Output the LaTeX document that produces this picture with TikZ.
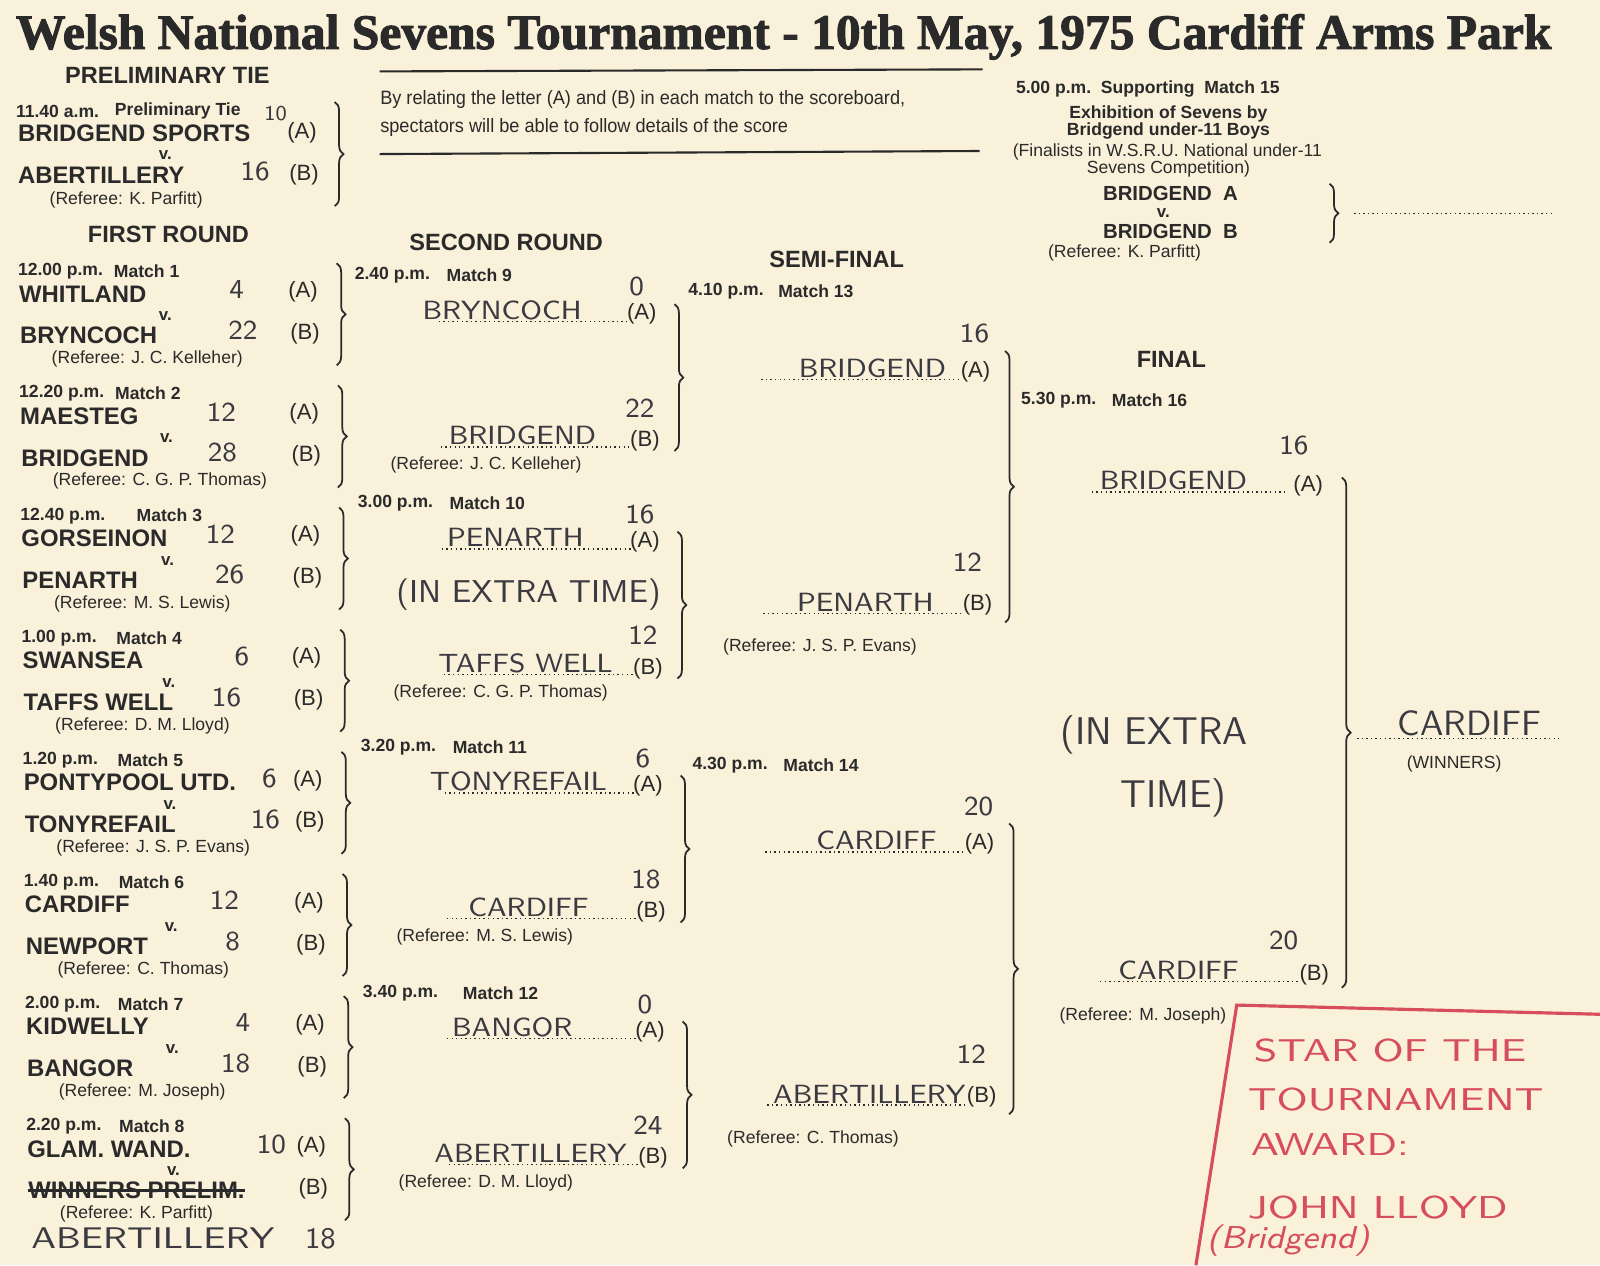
\documentclass[tikz,border=0pt]{standalone}
\usepackage{fontspec}
\setmainfont{Liberation Sans}
\newfontfamily\titlefont{Liberation Serif}[BoldFeatures={FakeBold=2}]
\usetikzlibrary{decorations.pathreplacing}
\definecolor{paper}{RGB}{250,241,219}
\definecolor{ink}{RGB}{42,42,42}
\definecolor{pen}{RGB}{58,58,64}
\definecolor{redink}{RGB}{214,78,92}

\begin{document}
\begin{tikzpicture}[x=0.010204cm,y=-0.010204cm,
  every node/.style={inner sep=0pt,text=ink},
  head/.style={font=\bfseries\fontsize{6.7}{8}\selectfont},
  team/.style={anchor=west,font=\bfseries\fontsize{6.8}{8}\selectfont},
  tm/.style={anchor=west,font=\bfseries\fontsize{5}{6}\selectfont},
  refe/.style={anchor=west,font=\fontsize{5}{6}\selectfont},
  note/.style={anchor=west,xscale=.94,font=\fontsize{5.5}{7}\selectfont},
  ab/.style={font=\fontsize{6.3}{7}\selectfont},
  vs/.style={font=\bfseries\fontsize{4.8}{6}\selectfont},
  hand/.style={anchor=base,text=pen,xscale=1.05,font=\sffamily\fontsize{7.5}{9}\selectfont},
  score/.style={text=pen,font=\sffamily\fontsize{7.8}{9}\selectfont},
  redhand/.style={anchor=west,text=redink,xscale=1.3,font=\sffamily\fontsize{9}{11}\selectfont},
  dotl/.style={draw=ink,line width=.4pt,dash pattern=on .4pt off .9pt},
  brc/.style={draw=ink,line width=.5pt,decorate,decoration={brace,amplitude=2.5pt}},
  rule/.style={draw=ink,line width=.6pt}]
\fill[paper] (0,0) rectangle (1568,1240);
\useasboundingbox (0,0) rectangle (1568,1240);

% title
\node[anchor=base west] (ttl) at (15,48) {\resizebox{15.36cm}{!}{\titlefont\bfseries\fontsize{14}{16}\selectfont Welsh National Sevens Tournament - 10th May, 1975 Cardiff Arms Park}};

% preliminary tie
\node[head] (prh) at (164,74) {PRELIMINARY TIE};
\node[tm] (prt) at (15,109) {11.40 a.m.};
\node[tm] (prm) at (112,109) {Preliminary Tie};
\node[team] (pra) at (17,131) {BRIDGEND SPORTS};
\node[vs] (prv) at (162,152) {v.};
\node[team] (prb) at (17,172) {ABERTILLERY};
\node[refe] (prr) at (48,196) {(Referee: K. Parfitt)};
\node[ab] (praa) at (296,130) {(A)};
\node[ab] (prab) at (298,171) {(B)};
\node[score,font=\sffamily\fontsize{6}{7}\selectfont] (prsa) at (270,111) {10};
\node[score] (prsb) at (250,168) {16};
\coordinate (prbt) at (328,100);
\coordinate (prbb) at (328,202);
\draw[brc] (prbt) -- (prbb);

% note between the rules
\coordinate (ru1a) at (372,70);
\coordinate (ru1b) at (963,68);
\draw[rule] (ru1a) -- (ru1b);
\node[note] (nt1) at (372,98) {By relating the letter (A) and (B) in each match to the scoreboard,};
\node[note] (nt2) at (372,125) {spectators will be able to follow details of the score};
\coordinate (ru2a) at (372,151);
\coordinate (ru2b) at (960,148);
\draw[rule] (ru2a) -- (ru2b);

% supporting match 15
\node[tm] (m15t) at (995,87) {5.00 p.m.\ \ Supporting\ \ Match 15};
\node[tm,anchor=center] (m15e) at (1145,112) {Exhibition of Sevens by};
\node[tm,anchor=center] (m15f) at (1145,128) {Bridgend under-11 Boys};
\node[refe,anchor=center] (m15g) at (1144,149) {(Finalists in W.S.R.U. National under-11};
\node[refe,anchor=center] (m15h) at (1145,166) {Sevens Competition)};
\node[team,anchor=center,font=\bfseries\fontsize{5.8}{7}\selectfont] (m15a) at (1147,190) {BRIDGEND\ \ A};
\node[vs] (m15v) at (1140,209) {v.};
\node[team,anchor=center,font=\bfseries\fontsize{5.8}{7}\selectfont] (m15b) at (1147,227) {BRIDGEND\ \ B};
\node[refe,anchor=center] (m15r) at (1102,248) {(Referee: K. Parfitt)};
\coordinate (m15bt) at (1303,180);
\coordinate (m15bb) at (1303,238);
\draw[brc] (m15bt) -- (m15bb);
\coordinate (m15d) at (1327,209);
\coordinate (m15e2) at (1520,209);
\draw[dotl] (m15d) -- (m15e2);

% first round
\node[head] (frh) at (165,230) {FIRST ROUND};
\foreach \i/\tim/\mx/\tea/\sca/\xsa/\teb/\scb/\xsb/\rf in {
1/12.00 p.m./111/WHITLAND/4/232/BRYNCOCH/22/238/J. C. Kelleher,
2/12.20 p.m./111/MAESTEG/12/217/BRIDGEND/28/218/C. G. P. Thomas,
3/12.40 p.m./131/GORSEINON/12/216/PENARTH/26/225/M. S. Lewis,
4/1.00 p.m./110/SWANSEA/6/237/TAFFS WELL/16/222/D. M. Lloyd,
5/1.20 p.m./110/PONTYPOOL UTD./6/264/TONYREFAIL/16/260/J. S. P. Evans,
6/1.40 p.m./110/CARDIFF/12/220/NEWPORT/8/228/C. Thomas,
7/2.00 p.m./108/KIDWELLY/4/238/BANGOR/18/231/M. Joseph,
8/2.20 p.m./108/GLAM. WAND./10/266/WINNERS PRELIM./{}/250/K. Parfitt}{
  \pgfmathsetmacro\yy{266+(\i-1)*119.7}
  \pgfmathsetmacro\xo{(\i-1)*1.15}
  \node[tm] (tm\i) at (17+\xo,\yy) {\tim};
  \node[tm] (mt\i) at (\mx+\xo,\yy) {Match \i};
  \node[team] (ta\i) at (18+\xo,\yy+22) {\tea};
  \node[vs] (v\i) at (162+\xo,\yy+44) {v.};
  \node[team] (tb\i) at (19+\xo,\yy+63) {\teb};
  \node[refe] (rf\i) at (50+\xo,\yy+86) {(Referee: \rf)};
  \node[ab] (aa\i) at (297+\xo,\yy+20) {(A)};
  \node[ab] (ab\i) at (299+\xo,\yy+61) {(B)};
  \node[score] (sa\i) at (\xsa,\yy+18) {\sca};
  \node[score] (sb\i) at (\xsb,\yy+58) {\scb};
  \coordinate (bt\i) at (330+\xo,\yy-8);
  \coordinate (bb\i) at (330+\xo,\yy+92);
  \draw[brc] (bt\i) -- (bb\i);
}
\draw[ink,line width=.8pt] (tb8.west) -- (tb8.east);
\node[hand,anchor=base west,xscale=1.15,font=\sffamily\fontsize{8.5}{10}\selectfont] (abh) at (30,1224) {ABERTILLERY};
\node[score,font=\sffamily\fontsize{8.5}{10}\selectfont] (abs) at (314,1214) {18};

% second round
\node[head] (srh) at (496,238) {SECOND ROUND};
\foreach \j/\ty/\xo/\xa/\tim/\mx/\ha/\sca/\hb/\scb/\rf in {
9/270/0/492/2.40 p.m./437/BRYNCOCH/0/BRIDGEND/22/J. C. Kelleher,
10/493/3/505/3.00 p.m./440/PENARTH/16/TAFFS WELL/12/C. G. P. Thomas,
11/732/6/508/3.20 p.m./443/TONYREFAIL/6/CARDIFF/18/M. S. Lewis,
12/973/8/502/3.40 p.m./453/BANGOR/0/ABERTILLERY/24/D. M. Lloyd}{
  \node[tm] (tm\j) at (347+\xo,\ty) {\tim};
  \node[tm] (mt\j) at (\mx,\ty) {Match \j};
  \coordinate (da\j) at (430+\xo,\ty+45);
  \coordinate (ea\j) at (615+\xo,\ty+45);
  \coordinate (db\j) at (432+\xo,\ty+168);
  \coordinate (eb\j) at (617+\xo,\ty+168);
  \draw[dotl] (da\j) -- (ea\j);
  \draw[dotl] (db\j) -- (eb\j);
  \node[hand] (ha\j) at (\xa,\ty+43) {\ha};
  \node[hand] (hb\j) at (512+\xo,\ty+166) {\hb};
  \node[ab] (aa\j) at (629+\xo,\ty+38) {(A)};
  \node[ab] (ab\j) at (632+\xo,\ty+162) {(B)};
  \node[score] (sa\j) at (624+\xo,\ty+11) {\sca};
  \node[score] (sb\j) at (627+\xo,\ty+130) {\scb};
  \node[refe] (rf\j) at (382+\xo,\ty+186) {(Referee: \rf)};
  \coordinate (bt\j) at (661+\xo,\ty+28);
  \coordinate (bb\j) at (661+\xo,\ty+172);
  \draw[brc] (bt\j) -- (bb\j);
}
\node[score,font=\sffamily\fontsize{9}{11}\selectfont] (xt10) at (518,583) {(IN EXTRA TIME)};

% semi-final
\node[head] (sfh) at (820,254) {SEMI-FINAL};
\foreach \j/\ty/\xo/\tim/\mx/\ya/\yb/\ha/\sca/\hb/\scb/\rf in {
13/285/0/4.10 p.m./762/87/316/BRIDGEND/16/PENARTH/12/J. S. P. Evans,
14/750/4/4.30 p.m./767/85/333/CARDIFF/20/ABERTILLERY/12/C. Thomas}{
  \node[tm] (tm\j) at (674+\xo,\ty) {\tim};
  \node[tm] (mt\j) at (\mx,\ty) {Match \j};
  \coordinate (da\j) at (746+\xo,\ty+\ya);
  \coordinate (ea\j) at (939+\xo,\ty+\ya);
  \coordinate (db\j) at (748+\xo,\ty+\yb);
  \coordinate (eb\j) at (941+\xo,\ty+\yb);
  \draw[dotl] (da\j) -- (ea\j);
  \draw[dotl] (db\j) -- (eb\j);
  \node[hand] (ha\j) at (855+\xo,\ty+\ya-2) {\ha};
  \node[hand] (hb\j) at (848+\xo,\ty+\yb-2) {\hb};
  \node[ab] (aa\j) at (956+\xo,\ty+\ya-8) {(A)};
  \node[ab] (ab\j) at (958+\xo,\ty+\yb-8) {(B)};
  \node[score] (sa\j) at (955+\xo,\ty+\ya-45) {\sca};
  \node[score] (sb\j) at (948+\xo,\ty+\yb-50) {\scb};
  \node[refe] (rf\j) at (708+\xo,\ty+\yb+33) {(Referee: \rf)};
  \coordinate (bt\j) at (985+\xo,\ty+\ya-28);
  \coordinate (bb\j) at (985+\xo,\ty+\yb+9);
  \draw[brc] (bt\j) -- (bb\j);
}

% final
\node[head] (fih) at (1148,352) {FINAL};
\node[tm] (tm16) at (1000,392) {5.30 p.m.};
\node[tm] (mt16) at (1089,392) {Match 16};
\coordinate (da16) at (1070,482);
\coordinate (ea16) at (1262,482);
\draw[dotl] (da16) -- (ea16);
\node[hand] (ha16) at (1150,480) {BRIDGEND};
\node[ab] (aa16) at (1282,476) {(A)};
\node[score] (sa16) at (1268,437) {16};
\node[score,font=\sffamily\fontsize{11}{13}\selectfont] (xt16a) at (1131,720) {(IN EXTRA};
\node[score,font=\sffamily\fontsize{11}{13}\selectfont] (xt16b) at (1150,782) {TIME)};
\coordinate (db16) at (1078,962);
\coordinate (eb16) at (1272,962);
\draw[dotl] (db16) -- (eb16);
\node[hand] (hb16) at (1155,960) {CARDIFF};
\node[ab] (ab16) at (1288,955) {(B)};
\node[score] (sb16) at (1258,922) {20};
\node[refe,anchor=center] (rf16) at (1120,996) {(Referee: M. Joseph)};
\coordinate (bt16) at (1315,468);
\coordinate (bb16) at (1315,968);
\draw[brc] (bt16) -- (bb16);

% winners
\coordinate (dw) at (1330,724);
\coordinate (ew) at (1528,724);
\draw[dotl] (dw) -- (ew);
\node[hand,font=\sffamily\fontsize{10}{12}\selectfont,xscale=.95] (win) at (1440,721) {CARDIFF};
\node[refe,anchor=center] (winl) at (1425,749) {(WINNERS)};

% star of the tournament
\coordinate (rb1) at (1568,994);
\coordinate (rb2) at (1212,985);
\coordinate (rb3) at (1172,1240);
\draw[redink,line width=.9pt] (rb1) -- (rb2) -- (rb3);
\node[redhand] (st1) at (1228,1030) {STAR OF THE};
\node[redhand] (st2) at (1222,1078) {TOURNAMENT};
\node[redhand] (st3) at (1225,1122) {AWARD:};
\node[redhand] (st4) at (1222,1183) {JOHN LLOYD};
\node[redhand,xscale=.85,font=\sffamily\itshape\fontsize{9}{11}\selectfont] (st5) at (1182,1216) {(Bridgend)};
\end{tikzpicture}
\end{document}
